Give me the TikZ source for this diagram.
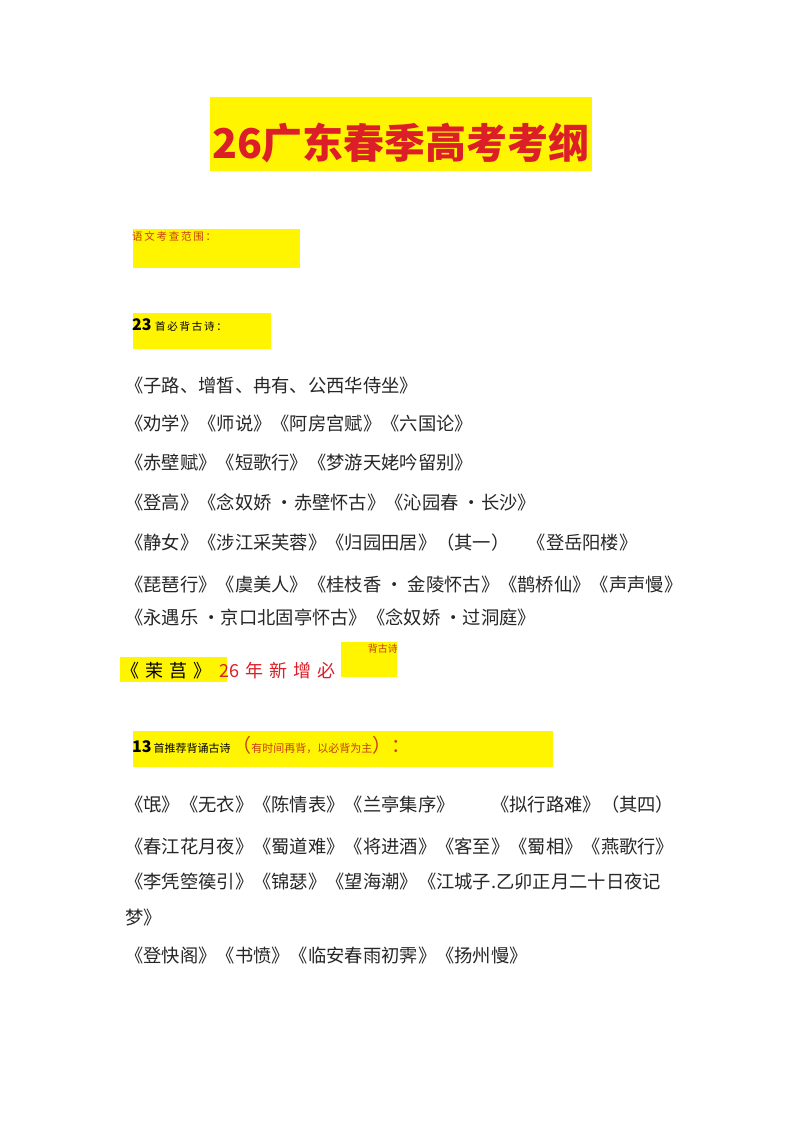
\documentclass[tikz,border=0pt]{standalone}
\usepackage{fontspec}
\setmainfont{Liberation Sans}
\newfontfamily\cjk{Noto Sans CJK SC}
\definecolor{hy}{RGB}{255,245,0}
\definecolor{tr}{RGB}{220,30,40}
\definecolor{lr}{RGB}{200,60,20}
\tikzset{
 hl/.style={fill=hy,draw=none},
 line/.style={anchor=west,inner sep=0pt,font=\cjk\fontsize{18.3}{18}\selectfont,text=black!85},
}
\begin{document}
\begin{tikzpicture}[x=1pt,y=-1pt]
\useasboundingbox (0,0) rectangle (800,1132);
\fill[white] (0,0) rectangle (800,1132);
\fill[hl] (210,97) rectangle (592,171);
\node[anchor=center,font=\cjk\bfseries\fontsize{41}{41}\selectfont,text=tr] (title) at (401,143) {26广东春季高考考纲};
\fill[hl] (133,229) rectangle (300,268);
\node[anchor=west,inner sep=0pt,font=\cjk\fontsize{10.5}{10}\selectfont,text=lr] (a) at (132,236) {语\,文\,考\,查\,范\,围\,：};
\fill[hl] (133,313) rectangle (271,349);
\node[anchor=west,inner sep=0pt,font=\cjk\fontsize{10.5}{10}\selectfont] (b) at (132,325) {{\bfseries\fontsize{16}{16}\selectfont 23}\,\,首\,必\,背\,古\,诗\,：};
\node[line] (l1) at (125,386) {《子路、增皙、冉有、公西华侍坐》};
\node[line] (l2) at (125,424) {《劝学》《师说》《阿房宫赋》《六国论》};
\node[line] (l3) at (125,463) {《赤壁赋》《短歌行》《梦游天姥吟留别》};
\node[line] (l4) at (125,502) {《登高》《念奴娇 ·赤壁怀古》《沁园春 ·长沙》};
\node[line] (l5) at (125,543) {《静女》《涉江采芙蓉》《归园田居》（其一）\quad 《登岳阳楼》};
\node[line] (l6) at (125,585) {《琵琶行》《虞美人》《桂枝香 · 金陵怀古》《鹊桥仙》《声声慢》};
\node[line] (l7) at (125,617) {《永遇乐 ·京口北固亭怀古》《念奴娇 ·过洞庭》};
\fill[hl] (120,657) rectangle (227,682);
\node[anchor=west,inner sep=0pt,font=\cjk\fontsize{18}{18}\selectfont] (m1) at (121,671) {《\,\,茉\,\,莒\,\,》};
\node[anchor=west,inner sep=0pt,font=\cjk\fontsize{18}{18}\selectfont,text=tr] (m2) at (219,671) {26\,\,年\,\,新\,\,增\,\,必};
\fill[hl] (341,642) rectangle (397,677);
\node[anchor=east,inner sep=0pt,font=\cjk\fontsize{10}{10}\selectfont,text=lr] (m3) at (398,649) {背古诗};
\fill[hl] (133,731) rectangle (553,767);
\node[anchor=west,inner sep=0pt,font=\cjk\fontsize{11}{11}\selectfont] (c) at (132,745) {{\bfseries\fontsize{16}{16}\selectfont 13}\,首推荐背诵古诗\,{\fontsize{19}{19}\selectfont\color{lr}（}{\color{lr}有时间再背，以必背为主}{\fontsize{19}{19}\selectfont\color{lr}）：}};
\node[line] (n1) at (125,805) {《氓》《无衣》《陈情表》《兰亭集序》\qquad 《拟行路难》（其四）};
\node[line] (n2) at (125,847) {《春江花月夜》《蜀道难》《将进酒》《客至》《蜀相》《燕歌行》};
\node[line] (n3) at (125,882) {《李凭箜篌引》《锦瑟》《望海潮》《江城子.乙卯正月二十日夜记};
\node[line] (n4) at (125,918) {梦》};
\node[line] (n5) at (125,956) {《登快阁》《书愤》《临安春雨初霁》《扬州慢》};
\end{tikzpicture}
\end{document}
